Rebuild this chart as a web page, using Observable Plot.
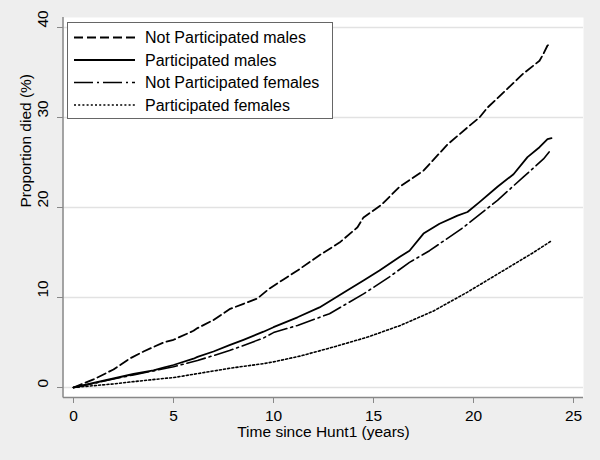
<!DOCTYPE html>
<html>
<head>
<meta charset="utf-8">
<script src="https://cdn.jsdelivr.net/npm/d3@7"></script>
<script src="https://cdn.jsdelivr.net/npm/@observablehq/plot@0.6"></script>
<style>
  html, body { margin: 0; padding: 0; background: #eeeeee; }
  #chart { width: 600px; height: 460px; }
</style>
</head>
<body>
<div id="chart"></div>
<script>
// ---- Data ----
const seriesNames = ["Not Participated males", "Participated males", "Not Participated females", "Participated females"];

const npMalesT = [0, 1, 2, 2.8, 3.5, 4.5, 5, 6, 6.2, 7, 7.8, 8.5, 9.2, 9.8, 10.5, 11.2, 12.3, 13.3, 14.2, 14.5, 15.4, 16.3, 17.5, 18.7, 19.7, 20.3, 20.7, 21.7, 22.5, 23.3, 23.5, 23.7, 23.9];
const npMalesV = [0, 0.9, 2.0, 3.2, 4.0, 5.0, 5.3, 6.3, 6.6, 7.5, 8.7, 9.3, 9.9, 11.0, 12.0, 13.0, 14.7, 16.1, 17.8, 18.9, 20.3, 22.3, 24.1, 27.0, 28.9, 30.0, 31.1, 33.2, 34.9, 36.3, 37.1, 38.0, 38.2];

const pMalesT = [0, 1, 2, 3, 4, 4.5, 5, 6, 6.2, 7, 7.8, 8.5, 9.5, 10, 11.2, 12.3, 13.7, 14.5, 15.3, 16.3, 16.8, 17.5, 18.3, 19.2, 19.7, 20.3, 21.2, 22, 22.7, 23.3, 23.7, 23.9];
const pMalesV = [0, 0.5, 1.0, 1.5, 1.9, 2.2, 2.5, 3.2, 3.4, 4.0, 4.7, 5.3, 6.2, 6.7, 7.8, 8.9, 10.8, 11.9, 13.0, 14.5, 15.2, 17.1, 18.2, 19.1, 19.5, 20.6, 22.3, 23.7, 25.6, 26.7, 27.6, 27.7];

const npFemalesT = [0, 1, 2, 3, 4, 5, 6.2, 7.8, 9.5, 10, 11.2, 12.8, 14.5, 15.8, 16.8, 17.8, 19.5, 21.2, 22.5, 23.5, 23.9];
const npFemalesV = [0, 0.45, 0.95, 1.4, 1.85, 2.3, 3.0, 4.1, 5.5, 6.1, 6.9, 8.2, 10.4, 12.3, 13.9, 15.2, 17.8, 20.8, 23.4, 25.4, 26.5];

const pFemalesT = [0, 1, 2, 3, 4.5, 5, 6.9, 8, 9.5, 10, 11.35, 13, 14.7, 16.35, 18, 19.7, 21.35, 23, 23.9];
const pFemalesV = [0, 0.2, 0.4, 0.65, 1.0, 1.1, 1.8, 2.2, 2.65, 2.85, 3.5, 4.5, 5.6, 6.9, 8.5, 10.6, 12.8, 15.0, 16.3];

const xTicks = [0, 5, 10, 15, 20, 25];
const yTicks = [0, 10, 20, 30, 40];
const xTitle = "Time since Hunt1 (years)";
const yTitle = "Proportion died (%)";

// ---- Build table ----
const pairs = [[npMalesT, npMalesV], [pMalesT, pMalesV], [npFemalesT, npFemalesV], [pFemalesT, pFemalesV]];
const rows = [];
pairs.forEach(([ts, vs], i) => ts.forEach((t, j) => rows.push({series: seriesNames[i], t, v: vs[j]})));

const dashes = ["9,4", "none", "19,4,2,4", "2,2.2"];
const widths = [1.8, 1.8, 1.6, 1.6];

const font = "'Liberation Sans', Arial, Helvetica, sans-serif";
const W = 600, H = 460, mL = 63, mR = 17, mT = 17, mB = 63;
const fs = 15.5;

const chart = Plot.plot({
  width: W, height: H,
  marginLeft: mL, marginRight: mR, marginTop: mT, marginBottom: mB,
  style: {background: "#eeeeee", fontFamily: font, fontSize: fs + "px", color: "black"},
  x: {domain: [0, 25], range: [73, 573]},
  y: {domain: [0, 40], range: [387, 27]},
  marks: [
    Plot.frame({fill: "white", stroke: "none"}),
    Plot.ruleY(yTicks, {stroke: "#e2e2e2", strokeWidth: 1.5}),
    ...seriesNames.map((s, i) => Plot.line(rows.filter(d => d.series === s), {
      x: "t", y: "v", stroke: "black", strokeWidth: widths[i],
      strokeDasharray: dashes[i], curve: "linear"
    })),
    Plot.axisX({ticks: xTicks, tickSize: 6, tickPadding: 6.5, stroke: "#888", fill: "black", fontSize: fs, label: null}),
    Plot.axisY({ticks: yTicks, tickSize: 6, stroke: "#888", fill: "none", label: null}),
    Plot.text(yTicks, {y: d => d, text: d => String(d), frameAnchor: "left", dx: -20, rotate: -90, fontSize: fs, fill: "black"}),
    Plot.text([xTitle], {text: d => d, frameAnchor: "bottom", dy: 39.5, fontSize: fs, fill: "black"}),
    Plot.text([yTitle], {text: d => d, frameAnchor: "left", dx: -37, rotate: -90, fontSize: fs, fill: "black"})
  ]
});

document.getElementById("chart").appendChild(chart);

// axis lines along the frame edges and the legend box
const svg = d3.select(chart);
svg.append("line").attr("x1", mL).attr("x2", mL).attr("y1", mT).attr("y2", H - mB + 0.5)
  .attr("stroke", "#888").attr("stroke-width", 1.5);
svg.append("line").attr("x1", mL).attr("x2", W - mR).attr("y1", H - mB + 0.5).attr("y2", H - mB + 0.5)
  .attr("stroke", "#888").attr("stroke-width", 1.5);

const lg = svg.append("g").attr("font-family", font).attr("font-size", 16).attr("text-anchor", "start");
lg.append("rect").attr("x", 67.5).attr("y", 22.5).attr("width", 265).attr("height", 96)
  .attr("fill", "white").attr("stroke", "#666").attr("stroke-width", 1);
seriesNames.forEach((s, i) => {
  const cy = 37.5 + i * 22.5;
  lg.append("line").attr("x1", 74).attr("x2", 135).attr("y1", cy).attr("y2", cy)
    .attr("stroke", "black").attr("stroke-width", widths[i])
    .attr("stroke-dasharray", dashes[i]);
  lg.append("text").attr("x", 145).attr("y", cy).attr("dy", "0.35em").attr("fill", "black")
    .attr("text-anchor", "start").text(s);
});
</script>
</body>
</html>
